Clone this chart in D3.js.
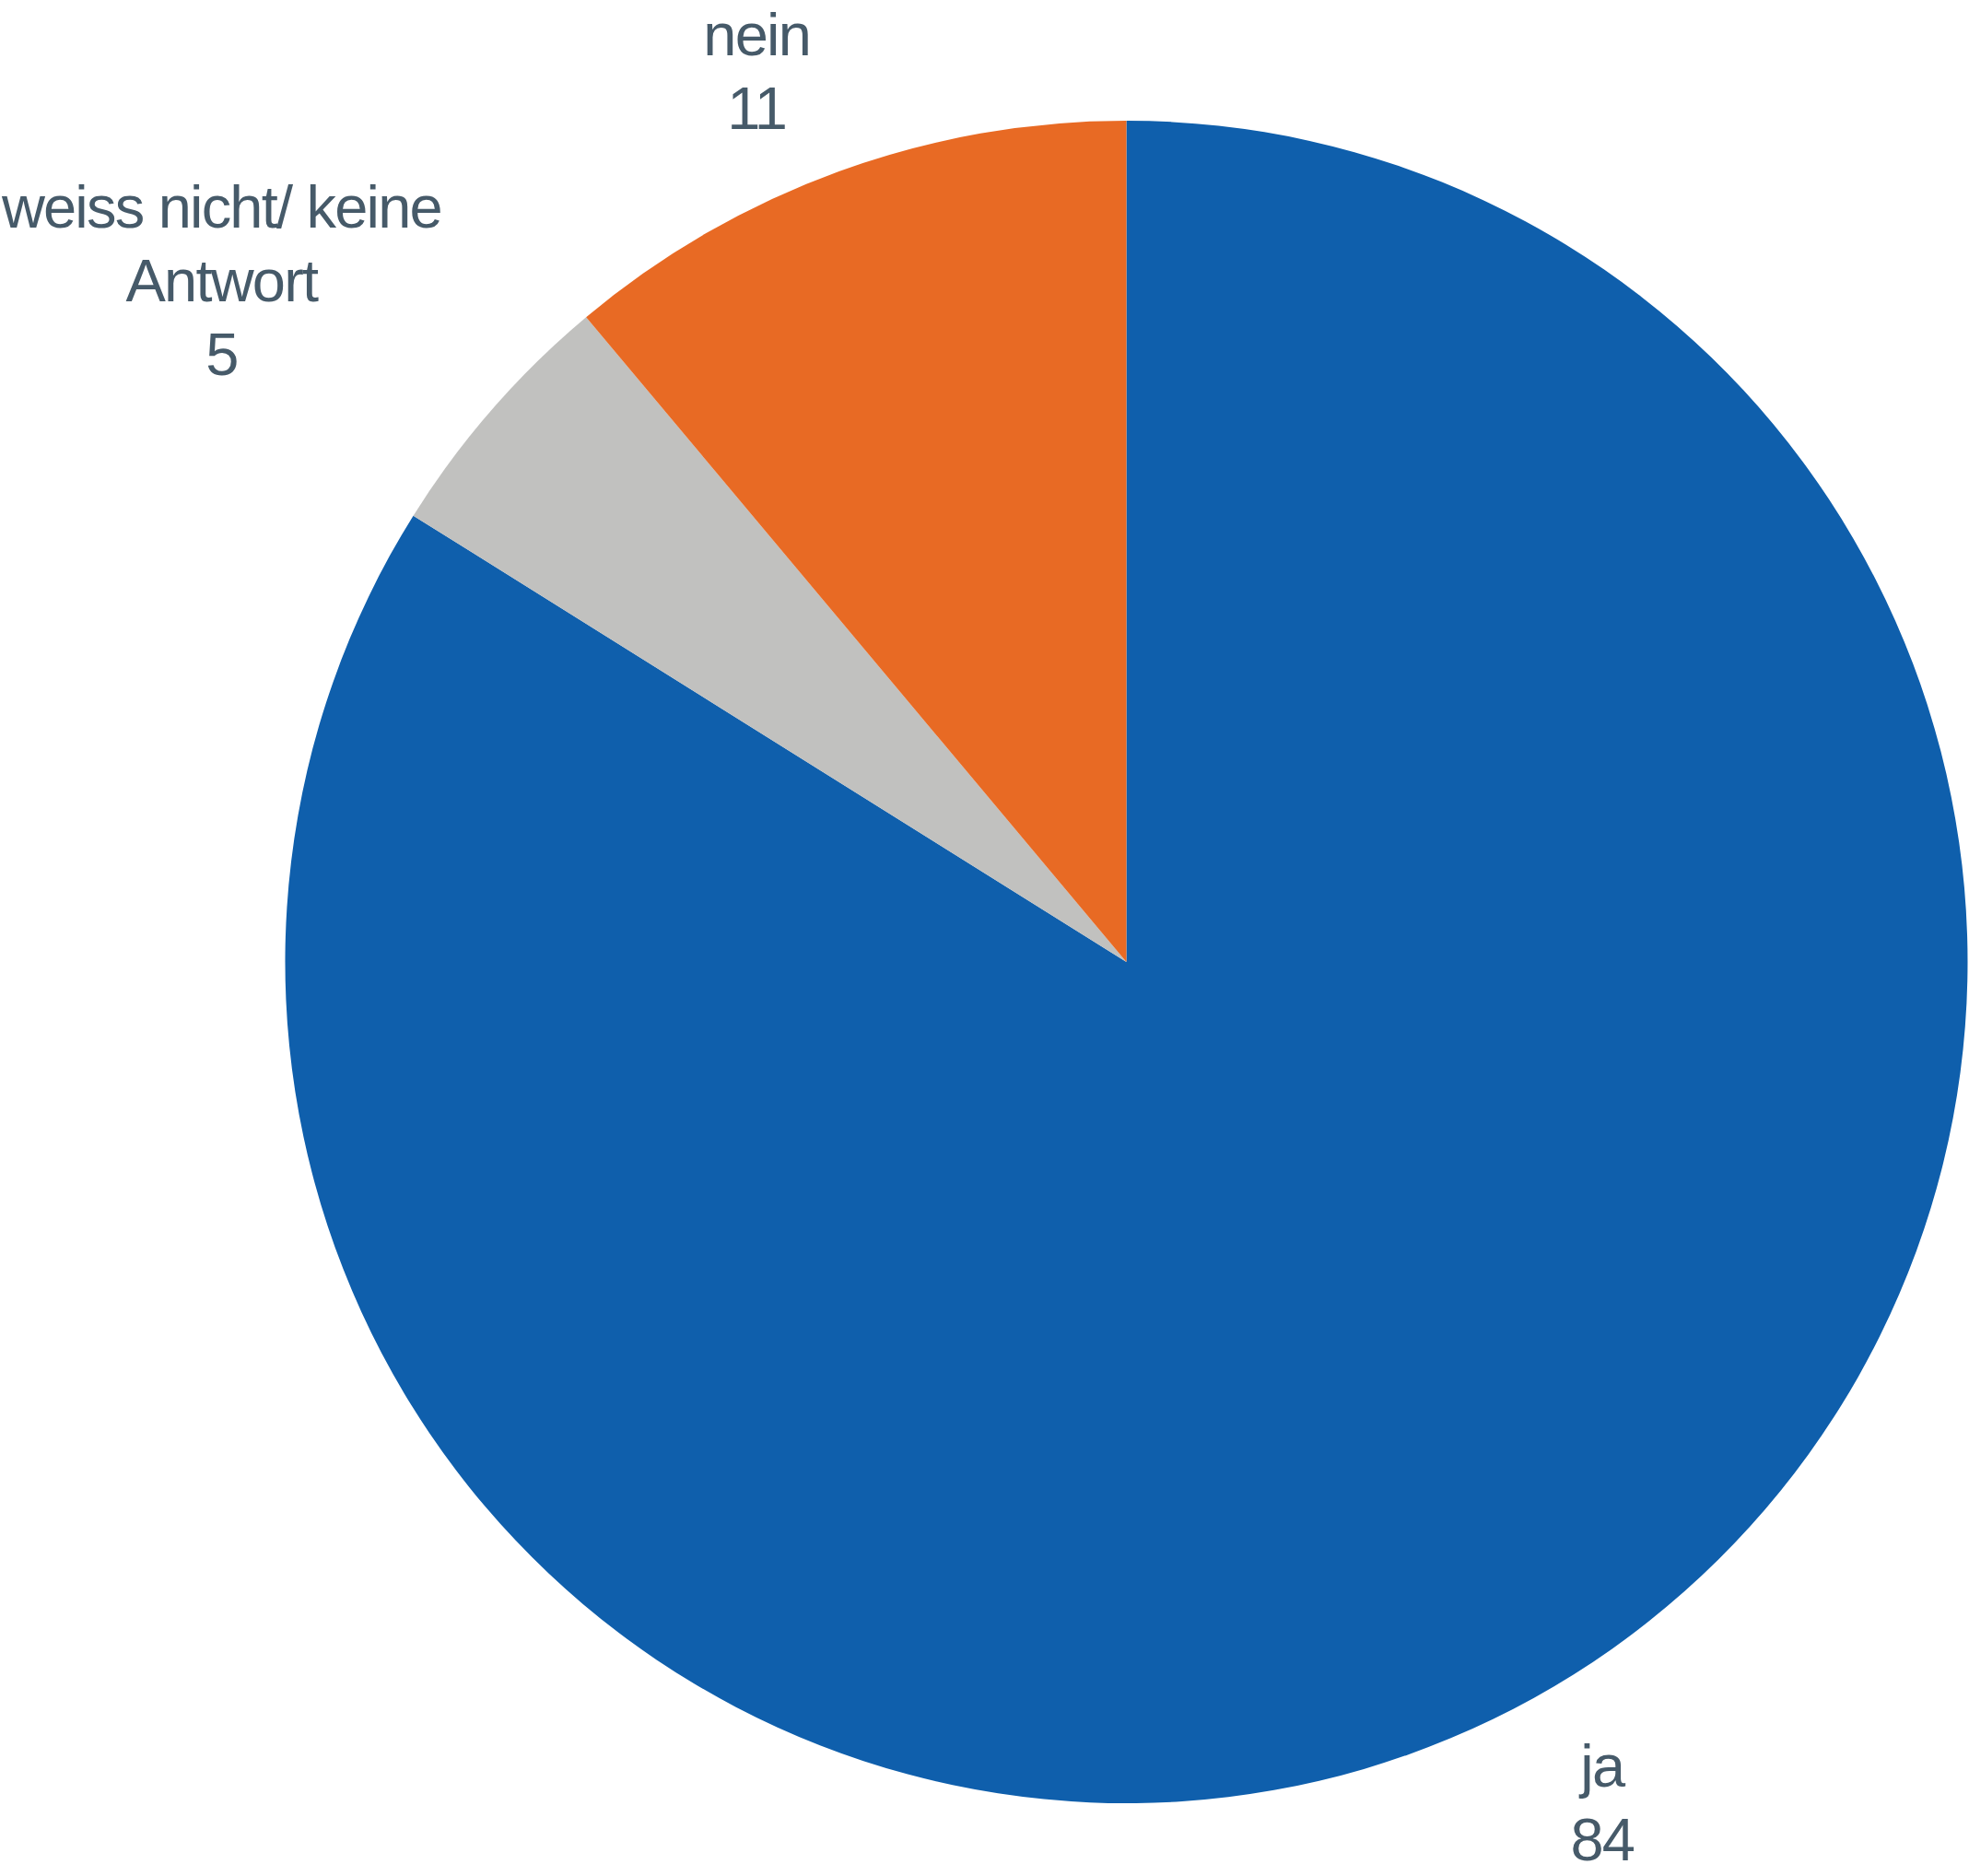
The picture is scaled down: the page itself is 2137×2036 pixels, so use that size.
<!DOCTYPE html>
<html>
<head>
<meta charset="utf-8">
<script src="https://cdn.jsdelivr.net/npm/d3@7"></script>
<style>
  html, body { margin: 0; padding: 0; background: #ffffff; }
  svg { display: block; }
</style>
</head>
<body>
<svg id="chart" width="2137" height="2036"></svg>
<script>
// ---- data ----
const categories = ["ja", "weiss nicht/ keine Antwort", "nein"];
const labelLines = [["ja"], ["weiss nicht/ keine", "Antwort"], ["nein"]];
const values = [83.9, 5.0, 11.1];
const colors = ["#0f5fac", "#c1c1bf", "#e86a24"];

// ---- layout ----
const W = 2137, H = 2036;
const cx = 1222.5, cy = 1044, R = 913;
const labelRadius = 970;
const hGap = 12;
const fontSize = 65, lineH = 80, capH = 0.716 * fontSize, ascent = 0.905 * fontSize;
const fmt = d3.format(".0f");

const svg = d3.select("#chart");
const data = categories.map((c, i) => ({ name: c, lines: labelLines[i], value: values[i], color: colors[i] }));

const pie = d3.pie().sort(null).value(d => d.value).startAngle(0).endAngle(2 * Math.PI);
const arc = d3.arc().innerRadius(0).outerRadius(R);
const arcs = pie(data);

const g = svg.append("g").attr("transform", `translate(${cx},${cy})`);
g.selectAll("path").data(arcs).join("path")
  .attr("d", arc)
  .attr("fill", d => d.data.color);

const labels = svg.append("g")
  .attr("font-family", "'Liberation Sans', Arial, sans-serif")
  .attr("font-size", fontSize)
  .attr("letter-spacing", "-1.8px")
  .attr("fill", "#465a69");

arcs.forEach(a => {
  const mid = (a.startAngle + a.endAngle) / 2;
  const s = Math.sin(mid), c = Math.cos(mid);
  const px = cx + labelRadius * s + (s < 0 ? -hGap : hGap);
  const py = cy - labelRadius * c;
  const lines = a.data.lines.concat([fmt(a.data.value)]);
  const t = labels.append("text").attr("text-anchor", "middle");
  const spans = lines.map((ln, i) => t.append("tspan").attr("x", 0).attr("y", i * lineH).text(ln));
  const w = d3.max(spans, sp => sp.node().getComputedTextLength());
  const n = lines.length;
  const centerX = s < 0 ? px - w / 2 : px + w / 2;
  let b1 = c > 0 ? py - (n - 1) * lineH : py + capH;
  b1 = Math.max(b1, ascent + 1); // keep the label inside the canvas
  t.attr("transform", `translate(${centerX},${b1})`);
});
</script>
</body>
</html>
